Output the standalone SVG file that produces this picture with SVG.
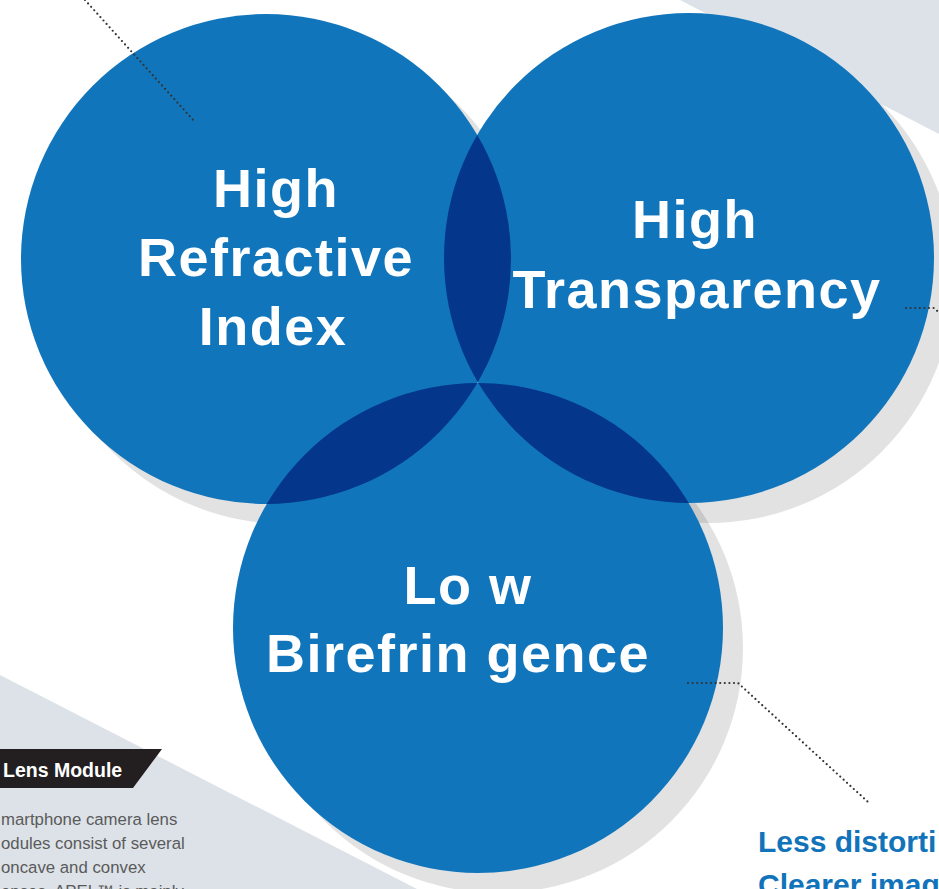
<svg xmlns="http://www.w3.org/2000/svg" width="939" height="889" viewBox="0 0 939 889">
  <style>
    .bg { fill: #dce2e8; }
    .shadow { fill: #000000; fill-opacity: 0.115; }
    .disc { fill: #1175bc; }
    .lens { fill: #04368b; }
    .label { font-family: "Liberation Sans", Arial, sans-serif; font-weight: bold; font-size: 54px; fill: #ffffff; text-anchor: middle; letter-spacing: 1.5px; }
    .dots { fill: none; stroke: #333333; stroke-width: 2.2; stroke-linecap: round; stroke-dasharray: 0 4.6; }
    .body { font-family: "Liberation Sans", Arial, sans-serif; font-size: 16.8px; fill: #5a5a5a; }
    .tag { font-family: "Liberation Sans", Arial, sans-serif; font-weight: bold; font-size: 19.5px; fill: #ffffff; }
    .benefit { font-family: "Liberation Sans", Arial, sans-serif; font-weight: bold; font-size: 30px; fill: #1173ba; }
  </style>
  <defs>
    <clipPath id="clipLeft"><circle cx="266" cy="259" r="245"/></clipPath>
    <clipPath id="clipRight"><circle cx="689" cy="258" r="245"/></clipPath>
  </defs>

  <rect x="0" y="0" width="939" height="889" fill="#ffffff"/>

  <g id="shadows">
    <circle class="shadow" cx="286" cy="279" r="245"/>
    <circle class="shadow" cx="709" cy="278" r="245"/>
    <circle class="shadow" cx="498" cy="648" r="245"/>
  </g>

  <g id="background">
    <polygon class="bg" points="680,0 939,0 939,134"/>
    <polygon class="bg" points="0,675 417,889 0,889"/>
  </g>

  <g id="node-refractive">
    <circle class="disc" cx="266" cy="259" r="245"/>
  </g>
  <g id="node-transparency">
    <circle class="disc" cx="689" cy="258" r="245"/>
  </g>
  <g id="node-birefringence">
    <circle class="disc" cx="478" cy="628" r="245"/>
  </g>

  <g id="overlaps">
    <g clip-path="url(#clipLeft)"><circle class="lens" cx="689" cy="258" r="245"/></g>
    <g clip-path="url(#clipLeft)"><circle class="lens" cx="478" cy="628" r="245"/></g>
    <g clip-path="url(#clipRight)"><circle class="lens" cx="478" cy="628" r="245"/></g>
  </g>

  <g id="connectors">
    <polyline class="dots" points="85,0 194,121"/>
    <polyline class="dots" points="906,308 934,308 946,319"/>
    <polyline class="dots" points="688,683 738,683 868,802"/>
  </g>

  <g id="labels">
    <text class="label" x="276" y="207">High</text>
    <text class="label" x="276" y="276">Refractive</text>
    <text class="label" x="273" y="345">Index</text>
    <text class="label" x="695" y="238">High</text>
    <text class="label" x="697" y="308">Transparency</text>
    <text class="label" x="468" y="604">Lo w</text>
    <text class="label" x="458" y="672">Birefrin gence</text>
  </g>

  <g id="lens-module">
    <polygon points="0,749 162,749 133,788 0,788" fill="#231f20"/>
    <text class="tag" x="3" y="777">Lens Module</text>
    <text class="body" x="1" y="825">martphone camera lens</text>
    <text class="body" x="1" y="849">odules consist of several</text>
    <text class="body" x="1" y="873">oncave and convex</text>
    <text class="body" x="1" y="897">enses. APEL™ is mainly</text>
  </g>

  <g id="benefit">
    <text class="benefit" x="758" y="852">Less distorti</text>
    <text class="benefit" x="758" y="895">Clearer imag</text>
  </g>
</svg>
